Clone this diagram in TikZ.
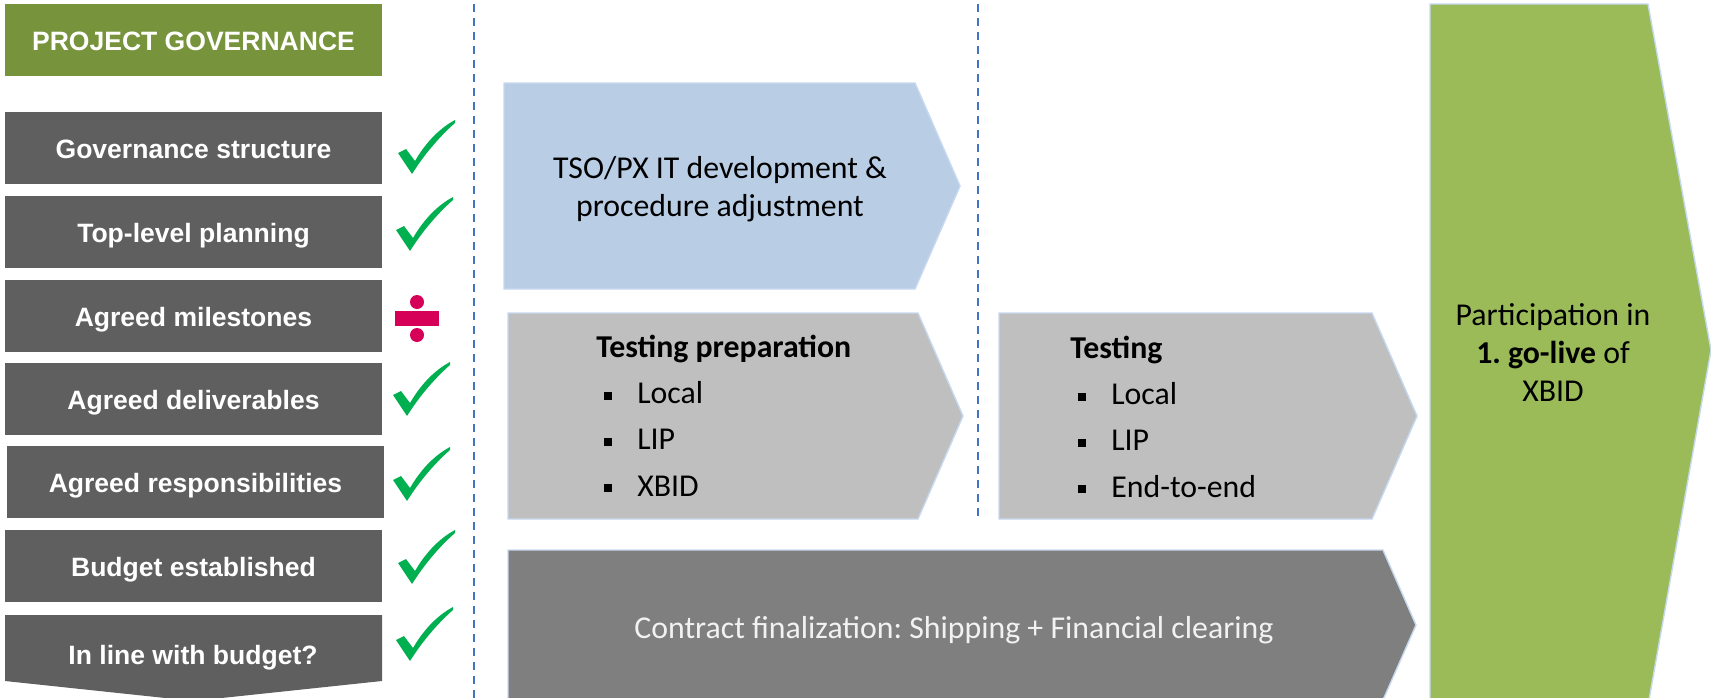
\documentclass[tikz,border=0pt]{standalone}
\usepackage{fontspec}
\setmainfont{Carlito}
\newfontfamily\arialfont{Liberation Sans}
\usetikzlibrary{positioning}
\frenchspacing
\definecolor{GovGreen}{RGB}{119, 147, 60}
\definecolor{BoxGray}{RGB}{95, 95, 95}
\definecolor{DevBlue}{RGB}{185, 205, 229}
\definecolor{TestGray}{RGB}{191, 191, 191}
\definecolor{ContractGray}{RGB}{127, 127, 127}
\definecolor{LiveGreen}{RGB}{155, 187, 89}
\definecolor{EdgeBlue}{RGB}{198, 217, 241}
\definecolor{DashBlue}{RGB}{68, 114, 196}
\definecolor{TickGreen}{RGB}{0, 176, 80}
\definecolor{PendingRed}{RGB}{214, 0, 88}
\newcommand{\sqitem}[1]{\hspace*{1.5mm}\rule[0.8mm]{1.6mm}{1.6mm}\hspace*{5.1mm}#1}

\begin{document}
\begin{tikzpicture}[
        x=0.2mm, y=-0.2mm,
        govbox/.style={
          rectangle,
          fill=BoxGray,
          text=white,
          inner sep=0pt,
          minimum width=75.4mm,
          minimum height=14.4mm,
          text height=12pt,
          text depth=0pt,
          font=\arialfont\bfseries\fontsize{15.1}{18}\selectfont
        },
        headbox/.style={govbox, fill=GovGreen},
        phase/.style={fill=#1, draw=EdgeBlue, line width=0.8pt},
        phasetext/.style={inner sep=0pt, anchor=base, align=center, font=\fontsize{18.1}{21.6}\selectfont},
        listtext/.style={inner sep=0pt, anchor=base west, align=left, font=\fontsize{18.1}{26.2}\selectfont},
        divider/.style={DashBlue, line width=1.1pt, dash pattern=on 1.6mm off 1.2mm},
        okmark/.pic={
          \fill[TickGreen] (0,33) -- (8,29) -- (17,41) .. controls (28,22) and (42,8) .. (57,0)
            -- (57,3) .. controls (41,17) and (26,35) .. (14,54) -- cycle;
        },
        pendingmark/.pic={
          \fill[PendingRed] (0,16) rectangle (44,31);
          \fill[PendingRed] (22,7) circle (1.4mm);
          \fill[PendingRed] (22,40) circle (1.4mm);
        }
      ]
        \useasboundingbox (0,0) rectangle (1711,698);
        \clip (0,0) rectangle (1711,698);

        % governance column
        \node (govhead)      at (193.5, 40)  [headbox] {PROJECT GOVERNANCE};
        \node (govstruct)    at (193.5, 148) [govbox] {Governance structure};
        \node (toplevel)     at (193.5, 232) [govbox] {Top-level planning};
        \node (milestones)   at (193.5, 316) [govbox] {Agreed milestones};
        \node (deliverables) at (193.5, 399) [govbox] {Agreed deliverables};
        \node (responsib)    at (195.5, 482) [govbox] {Agreed responsibilities};
        \node (budgetest)    at (193.5, 566) [govbox] {Budget established};
        \fill[BoxGray] (5,615) -- (382,615) -- (382,681) -- (193.5,701) -- (5,681) -- cycle;
        \node (budgetline)   at (193, 654)   [govbox, fill=none] {In line with budget?};

        \pic at (398,120) {okmark};
        \pic at (396,197) {okmark};
        \pic at (395,295) {pendingmark};
        \pic at (393,362) {okmark};
        \pic at (393,447) {okmark};
        \pic at (398,530) {okmark};
        \pic at (396,607) {okmark};

        % dashed separators
        \draw[divider] (474,4) -- (474,698);
        \draw[divider] (978,4) -- (978,516);

        % phases
        \draw[phase=DevBlue] (504,83) -- (915,83) -- (960,186) -- (915,289) -- (504,289) -- cycle;
        \draw[phase=TestGray] (508,313) -- (918,313) -- (963,416) -- (918,519) -- (508,519) -- cycle;
        \draw[phase=TestGray] (999,313) -- (1372,313) -- (1417,416) -- (1372,519) -- (999,519) -- cycle;
        \draw[phase=ContractGray] (508,550) -- (1383,550) -- (1416,625) -- (1383,700) -- (508,700) -- cycle;
        \draw[phase=LiveGreen] (1430,4) -- (1648,4) -- (1711,350) -- (1649,700) -- (1430,700) -- cycle;

        % last line of each text sits on the given baseline
        \node (itdev)    at (720, 216)  [phasetext] {TSO/PX IT development \&\\procedure adjustment};
        \node (testprep) at (596, 496)  [listtext] {\textbf{Testing preparation}\\\sqitem{Local}\\\sqitem{LIP}\\\sqitem{XBID}};
        \node (testing)  at (1070, 497) [listtext] {\textbf{Testing}\\\sqitem{Local}\\\sqitem{LIP}\\\sqitem{End-to-end}};
        \node (contract) at (954, 638)  [phasetext, text=white!95!black] {Contract finalization: Shipping + Financial clearing};
        \node (golive)   at (1553, 401) [phasetext] {Participation in\\\textbf{1. go-live} of\\XBID};
      \end{tikzpicture}
\end{document}
